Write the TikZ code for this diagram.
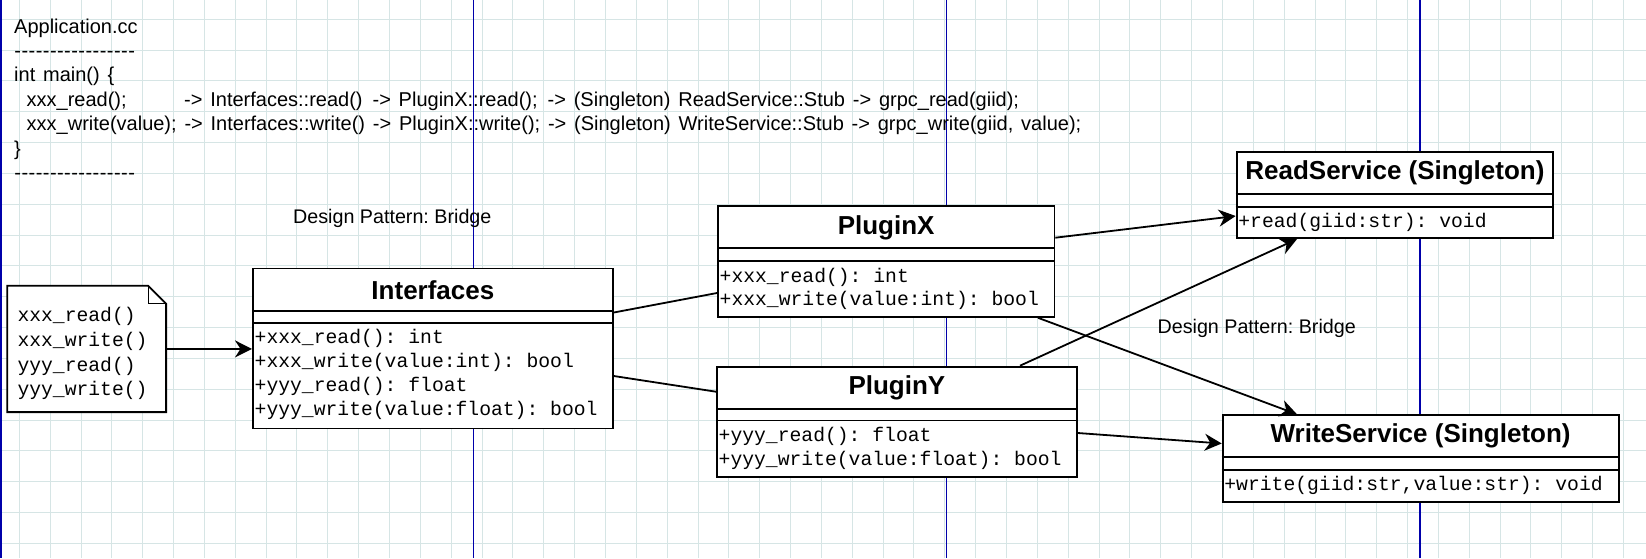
\documentclass[tikz,border=0pt]{standalone}
\usepackage{fontspec}
\newfontfamily\umlsans{Liberation Sans}
\newfontfamily\umlmono{Liberation Mono}
\usetikzlibrary{arrows.meta,calc}
\definecolor{gridc}{RGB}{214,229,229}
\definecolor{pageblue}{RGB}{0,0,170}
\newcommand\dashrow{\foreach \k in {1,...,17}{\makebox[7.12pt][c]{-}}}
\newcommand\codespacing{\frenchspacing\spaceskip=7.8pt\relax}
\begin{document}
\begin{tikzpicture}[x=1pt,y=-1pt,
  classbox/.style={draw=black, line width=1.8pt, fill=white, inner sep=0pt, anchor=north west},
  sepline/.style={draw=black, line width=1.8pt},
  titletext/.style={inner sep=0pt, font=\umlsans\bfseries\fontsize{26}{30}\selectfont},
  methodtext/.style={inner sep=0pt, anchor=west, text height=14pt, text depth=4pt, font=\umlmono\fontsize{19.7}{23}\selectfont\frenchspacing},
  codetext/.style={inner sep=0pt, anchor=base west, font=\umlsans\fontsize{20}{24}\selectfont\codespacing},
  labeltext/.style={inner sep=0pt, font=\umlsans\fontsize{19.7}{24}\selectfont\frenchspacing},
  conn/.style={draw=black, line width=1.8pt},
  arr/.style={conn, -{Stealth[length=17pt,width=17pt,inset=5.5pt]}}
]
\useasboundingbox (0,0) rectangle (1646,558);
\fill[white] (0,0) rectangle (1646,558);
% grid
\foreach \i in {0,...,52} \draw[gridc, line width=1pt] ({19.3+30.85*\i},0) -- ({19.3+30.85*\i},558);
\foreach \j in {0,...,17} \draw[gridc, line width=1pt] (0,{19.3+30.83*\j}) -- (1646,{19.3+30.83*\j});
% page breaks
\draw[pageblue, line width=2pt] (1,0) -- (1,558);
\foreach \x in {473.3,946.7,1420} \draw[pageblue, line width=1.1pt] (\x,0) -- (\x,558);

% code block
\node[codetext] (c1) at (14,33) {Application.cc};
\node[codetext] (c2) at (14,57.4) {\dashrow};
\node[codetext] (c3) at (14,81.8) {int main() \{};
\node[codetext] (c4) at (14,106.2) {\makebox[170pt][l]{\hspace*{12.5pt}xxx\_read();}-> Interfaces::read()\hspace{10pt}-> PluginX::read();\hspace{10pt}-> (Singleton) ReadService::Stub -> grpc\_read(giid);};
\node[codetext] (c5) at (14,130.6) {\hspace*{12.5pt}xxx\_write(value); -> Interfaces::write() -> PluginX::write(); -> (Singleton) WriteService::Stub -> grpc\_write(giid, value);};
\node[codetext] (c6) at (14,155) {\}};
\node[codetext] (c7) at (14,179.4) {\dashrow};

% labels
\node[labeltext] (lb1) at (392.3,218.3) {Design Pattern: Bridge};
\node[labeltext] (lb2) at (1256.7,328.3) {Design Pattern: Bridge};

% note
\node[inner sep=0pt, minimum width=158.4pt, minimum height=126pt, anchor=north west] (note) at (7.3,285.7) {};
\draw[black, line width=1.8pt, fill=white]
  (note.north west) -- ($(note.north east)+(-18,0)$) -- ($(note.north east)+(0,18)$) -- (note.south east) -- (note.south west) -- cycle;
\draw[black, line width=1.2pt] ($(note.north east)+(-18,0)$) -- ($(note.north east)+(-18,18)$) -- ($(note.north east)+(0,18)$);
\node[methodtext] (n1) at ($(note.north west)+(10,31)$) {xxx\_read()};
\node[methodtext] (n2) at ($(note.north west)+(10,56)$) {xxx\_write()};
\node[methodtext] (n3) at ($(note.north west)+(10,80.3)$) {yyy\_read()};
\node[methodtext] (n4) at ($(note.north west)+(10,104.6)$) {yyy\_write()};

% Interfaces
\node[classbox, minimum width=360pt, minimum height=160pt] (ifc) at (252,267.5) {};
\draw[sepline] ($(ifc.north west)+(0,43.5)$) -- ($(ifc.north east)+(0,43.5)$);
\draw[sepline] ($(ifc.north west)+(0,55.2)$) -- ($(ifc.north east)+(0,55.2)$);
\node[titletext] (ifc-t) at ($(ifc.north)+(0,22.5)$) {Interfaces};
\node[methodtext] (ifc-m1) at ($(ifc.north west)+(2.5,70.8)$) {+xxx\_read(): int};
\node[methodtext] (ifc-m2) at ($(ifc.north west)+(2.5,95.2)$) {+xxx\_write(value:int): bool};
\node[methodtext] (ifc-m3) at ($(ifc.north west)+(2.5,119.2)$) {+yyy\_read(): float};
\node[methodtext] (ifc-m4) at ($(ifc.north west)+(2.5,143.2)$) {+yyy\_write(value:float): bool};

% PluginX
\node[classbox, minimum width=336.5pt, minimum height=111pt] (px) at (717,205) {};
\draw[sepline] ($(px.north west)+(0,42.7)$) -- ($(px.north east)+(0,42.7)$);
\draw[sepline] ($(px.north west)+(0,55.7)$) -- ($(px.north east)+(0,55.7)$);
\node[titletext] (px-t) at ($(px.north)+(0,23)$) {PluginX};
\node[methodtext] (px-m1) at ($(px.north west)+(2.5,72.3)$) {+xxx\_read(): int};
\node[methodtext] (px-m2) at ($(px.north west)+(2.5,95.5)$) {+xxx\_write(value:int): bool};

% PluginY
\node[classbox, minimum width=360pt, minimum height=110.3pt] (py) at (716,365.7) {};
\draw[sepline] ($(py.north west)+(0,43.6)$) -- ($(py.north east)+(0,43.6)$);
\draw[sepline] ($(py.north west)+(0,54.8)$) -- ($(py.north east)+(0,54.8)$);
\node[titletext] (py-t) at ($(py.north)+(0,22)$) {PluginY};
\node[methodtext] (py-m1) at ($(py.north west)+(2.5,71)$) {+yyy\_read(): float};
\node[methodtext] (py-m2) at ($(py.north west)+(2.5,94.3)$) {+yyy\_write(value:float): bool};

% ReadService
\node[classbox, minimum width=316.6pt, minimum height=86.3pt] (rs) at (1235.7,151) {};
\draw[sepline] ($(rs.north west)+(0,43.3)$) -- ($(rs.north east)+(0,43.3)$);
\draw[sepline] ($(rs.north west)+(0,55.7)$) -- ($(rs.north east)+(0,55.7)$);
\node[titletext] (rs-t) at ($(rs.north)+(0,22)$) {ReadService (Singleton)};
\node[methodtext] (rs-m1) at ($(rs.north west)+(2.5,71)$) {+read(giid:str): void};

% WriteService
\node[classbox, minimum width=396pt, minimum height=86.4pt] (ws) at (1221.7,414.3) {};
\draw[sepline] ($(ws.north west)+(0,42.4)$) -- ($(ws.north east)+(0,42.4)$);
\draw[sepline] ($(ws.north west)+(0,55.7)$) -- ($(ws.north east)+(0,55.7)$);
\node[titletext] (ws-t) at ($(ws.north)+(0,22)$) {WriteService (Singleton)};
\node[methodtext] (ws-m1) at ($(ws.north west)+(2.5,71.2)$) {+write(giid:str,value:str): void};

% connectors
\draw[arr] (note.east) -- (note.east -| ifc.west);
\draw[conn] ($(ifc.north east)+(0,45)$) -- ($(px.north west)+(0,88)$);
\draw[conn] ($(ifc.north east)+(0,108.5)$) -- ($(py.north west)+(0,26)$);
\draw[arr] ($(px.north east)+(0,32.7)$) -- ($(rs.north west)+(0,65)$);
\draw[arr] ($(px.south west)+(321,0)$) -- ($(ws.north west)+(75.3,0)$);
\draw[arr] ($(py.north west)+(304,0)$) -- ($(rs.south west)+(61.3,0)$);
\draw[arr] ($(py.north east)+(0,67.3)$) -- ($(ws.north west)+(0,29.2)$);
\end{tikzpicture}
\end{document}
